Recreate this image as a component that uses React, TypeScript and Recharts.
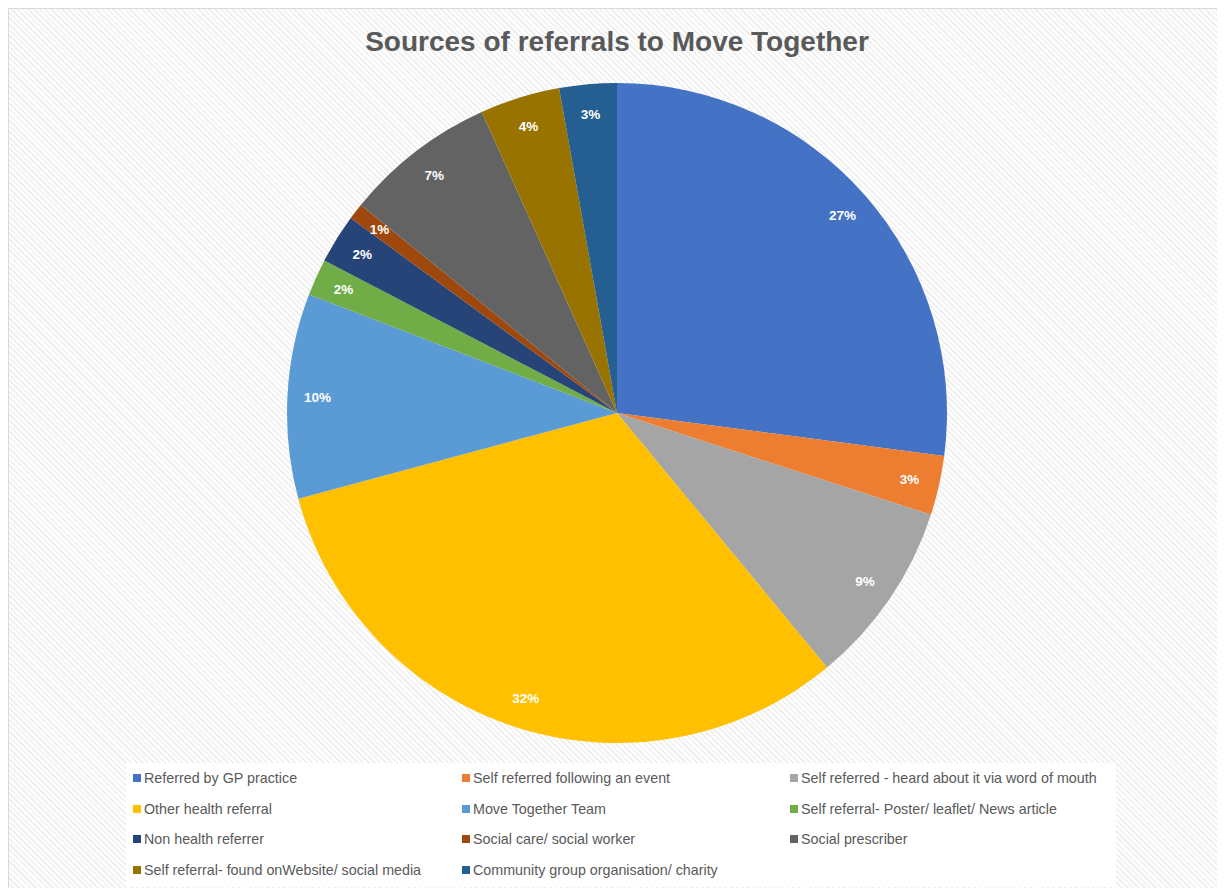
import React from "react";
import { PieChart, Pie, Cell, Legend } from "recharts";

// Referral sources, in clockwise order from 12 o'clock
const categories = [
  "Referred by GP practice",
  "Self referred following an event",
  "Self referred - heard about it via word of mouth",
  "Other health referral",
  "Move Together Team",
  "Self referral- Poster/ leaflet/ News article",
  "Non health referrer",
  "Social care/ social worker",
  "Social prescriber",
  "Self referral- found onWebsite/ social media",
  "Community group organisation/ charity",
];

// Share of referrals (percent)
const shares = [27.0, 2.9, 9.0, 31.7, 10.0, 1.8, 2.4, 0.8, 7.4, 3.9, 2.8];

const colors = [
  "#4472C4",
  "#ED7D31",
  "#A5A5A5",
  "#FFC000",
  "#5B9BD5",
  "#70AD47",
  "#264478",
  "#9E480E",
  "#636363",
  "#997300",
  "#255E91",
];

const title = "Sources of referrals to Move Together";

const data = categories.map((name, i) => ({ name, value: shares[i] }));

const WIDTH = 1217;
const HEIGHT = 880;
const FONT = "'Liberation Sans', Arial, sans-serif";
const RAD = Math.PI / 180;

const renderLabel = (props: any) => {
  const { cx, cy, midAngle, outerRadius, percent } = props;
  const r = outerRadius - 30;
  const x = cx + r * Math.cos(-midAngle * RAD);
  const y = cy + r * Math.sin(-midAngle * RAD);
  return (
    <text
      x={x}
      y={y}
      fill="#ffffff"
      fontFamily={FONT}
      fontWeight={700}
      fontSize={13.5}
      textAnchor="middle"
      dominantBaseline="central"
    >
      {`${Math.round(percent * 100)}%`}
    </text>
  );
};

const renderLegend = () => (
  <div
    style={{
      background: "rgba(255,255,255,0.94)",
      display: "grid",
      gridTemplateColumns: "329px 328px 328px",
      padding: "0px 0 2px 7px",
      boxSizing: "border-box",
      width: 990,
      height: 124,
    }}
  >
    {categories.map((name, i) => (
      <div
        key={name}
        style={{
          display: "flex",
          alignItems: "center",
          height: 30,
          fontFamily: FONT,
          fontSize: 14.3,
          color: "#595959",
          whiteSpace: "nowrap",
        }}
      >
        <span
          style={{
            display: "inline-block",
            width: 8,
            height: 8,
            background: colors[i],
            marginRight: 3,
          }}
        />
        {name}
      </div>
    ))}
  </div>
);

export default function App() {
  return (
    <div
      style={{
        position: "relative",
        width: WIDTH,
        height: HEIGHT,
        borderLeft: "1px solid #d9d9d9",
        borderTop: "1px solid #d9d9d9",
        boxSizing: "border-box",
        background:
          "repeating-linear-gradient(45deg, #ffffff 0px, #ffffff 2.2px, #f0f0f0 2.2px, #f0f0f0 4px)",
      }}
    >
      <div
        style={{
          position: "absolute",
          left: 0,
          top: 17,
          width: 1216,
          textAlign: "center",
          fontFamily: FONT,
          fontWeight: 700,
          fontSize: 28,
          color: "#595959",
        }}
      >
        {title}
      </div>
      <PieChart
        width={WIDTH}
        height={HEIGHT}
        margin={{ top: 0, right: 0, bottom: 0, left: 0 }}
        style={{ position: "absolute", left: 0, top: 0 }}
      >
        <Pie
          data={data}
          dataKey="value"
          nameKey="name"
          cx={608}
          cy={404}
          outerRadius={330}
          startAngle={90}
          endAngle={-270}
          stroke="none"
          label={renderLabel}
          labelLine={false}
          isAnimationActive={false}
        >
          {data.map((d, i) => (
            <Cell key={d.name} fill={colors[i]} />
          ))}
        </Pie>
        <Legend
          content={renderLegend}
          wrapperStyle={{ position: "absolute", left: 117, top: 754, width: 990 }}
        />
      </PieChart>
    </div>
  );
}
